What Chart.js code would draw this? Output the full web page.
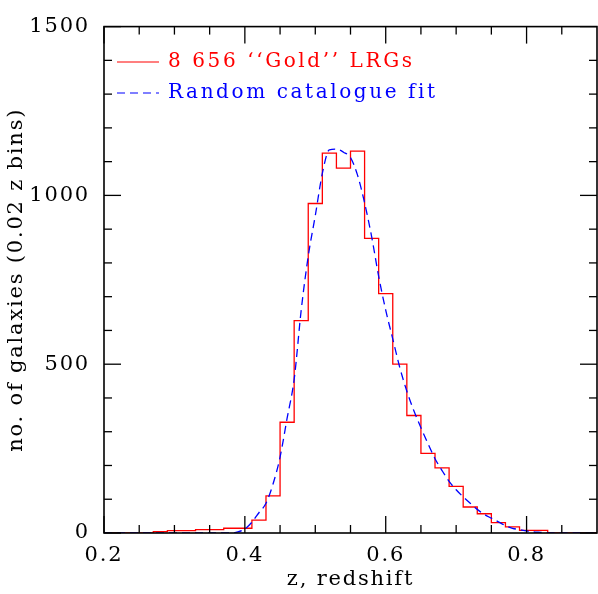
<!DOCTYPE html>
<html>
<head>
<meta charset="utf-8">
<script src="https://cdn.jsdelivr.net/npm/chart.js@4"></script>
<style>
html,body{margin:0;padding:0;background:#fff;}
#wrap{width:598px;height:594px;}
</style>
</head>
<body>
<div id="wrap"><canvas id="c" width="598" height="594"></canvas></div>
<script>
// Histogram: left edges of 0.02 bins and galaxy counts
const binLeft = [0.19,0.21,0.23,0.25,0.27,0.29,0.31,0.33,0.35,0.37,0.39,0.41,0.43,0.45,0.47,0.49,0.51,0.53,0.55,0.57,0.59,0.61,0.63,0.65,0.67,0.69,0.71,0.73,0.75,0.77,0.79,0.81,0.83,0.85,0.87,0.89,0.91];
const binCounts = [0,0,0,0,4,7,7,10,10,14,14,38,110,328,629,976,1125,1081,1131,873,709,500,348,236,193,138,77,57,31,18,8,8,0,0,0,0,0];
// Random catalogue fit
const fitZ = [0.20,0.30,0.38,0.39,0.40,0.41,0.42,0.43,0.44,0.45,0.46,0.47,0.48,0.49,0.50,0.51,0.52,0.53,0.54,0.55,0.56,0.57,0.58,0.59,0.60,0.61,0.62,0.63,0.64,0.65,0.66,0.67,0.68,0.69,0.70,0.71,0.72,0.73,0.74,0.75,0.76,0.77,0.78,0.79,0.80,0.81,0.82,0.83,0.84,0.90];
const fitCounts = [0,0,0,3,12,32,60,88,145,225,340,455,660,820,940,1065,1135,1137,1128,1112,1060,978,878,760,660,575,490,420,362,312,265,220,185,153,128,107,88,70,55,44,33,22,14,10,6,3,2,1,0,0];
// Axis ticks
const xTickLabels = [0.2,0.4,0.6,0.8];
const xMinorTicks = [0.25,0.3,0.35,0.45,0.5,0.55,0.65,0.7,0.75,0.85];
const yTickLabels = [0,500,1000,1500];
const yMinorTicks = [100,200,300,400,600,700,800,900,1100,1200,1300,1400];
const seriesNames = ['8 656 \u2018\u2018Gold\u2019\u2019 LRGs','Random catalogue fit'];

const FONT = 'DejaVu Serif';

const histData = binLeft.map((z,i)=>({x:z,y:binCounts[i]}));
const fitData = fitZ.map((z,i)=>({x:z,y:fitCounts[i]}));

const spacing = {
  id:'spacing',
  beforeUpdate(chart){ chart.ctx.letterSpacing='1.8px'; },
  beforeDraw(chart){ chart.ctx.letterSpacing='1.8px'; }
};

const frameTicks = {
  id:'frameTicks',
  afterDatasetsDraw(chart){
    const {ctx, chartArea:a, scales:{x,y}} = chart;
    ctx.save();
    ctx.strokeStyle='#000';
    ctx.lineWidth=1.3;
    const tick=(x1,y1,x2,y2)=>{ctx.beginPath();ctx.moveTo(x1,y1);ctx.lineTo(x2,y2);ctx.stroke();};
    const MAJ=17, MIN=8;
    xTickLabels.forEach(v=>{const p=x.getPixelForValue(v);tick(p,a.bottom,p,a.bottom-MAJ);tick(p,a.top,p,a.top+MAJ);});
    xMinorTicks.forEach(v=>{const p=x.getPixelForValue(v);tick(p,a.bottom,p,a.bottom-MIN);tick(p,a.top,p,a.top+MIN);});
    yTickLabels.forEach(v=>{const p=y.getPixelForValue(v);tick(a.left,p,a.left+MAJ,p);tick(a.right,p,a.right-MAJ,p);});
    yMinorTicks.forEach(v=>{const p=y.getPixelForValue(v);tick(a.left,p,a.left+MIN,p);tick(a.right,p,a.right-MIN,p);});
    ctx.lineWidth=1.6;
    ctx.strokeRect(a.left,a.top,a.right-a.left,a.bottom-a.top);
    // legend
    ctx.font = '20px "'+FONT+'"';
    ctx.letterSpacing='2.6px';
    ctx.textBaseline='middle';
    ctx.textAlign='left';
    const ds = chart.data.datasets;
    const rows=[62,93];
    ds.forEach((d,i)=>{
      ctx.strokeStyle=d.borderColor; ctx.lineWidth=1.2;
      ctx.setLineDash(d.borderDash||[]);
      tick(a.left+13,rows[i],a.left+55,rows[i]);
      ctx.setLineDash([]);
      ctx.fillStyle=d.borderColor;
      ctx.fillText(d.label,a.left+64,rows[i]);
    });
    ctx.restore();
  }
};

new Chart(document.getElementById('c'),{
  type:'line',
  data:{datasets:[
    {label:seriesNames[0],data:histData,stepped:'before',borderColor:'#ff0000',borderWidth:1.3,pointRadius:0,fill:false,order:2},
    {label:seriesNames[1],data:fitData,borderColor:'#0000ff',borderWidth:1.3,borderDash:[8,5],pointRadius:0,fill:false,cubicInterpolationMode:'monotone',order:1}
  ]},
  options:{
    responsive:false,animation:false,
    layout:{padding:{top:17,right:1,left:0,bottom:0}},
    plugins:{legend:{display:false},tooltip:{enabled:false}},
    scales:{
      x:{type:'linear',min:0.2,max:0.9,
        afterBuildTicks:s=>{s.ticks=xTickLabels.map(v=>({value:v}));},
        afterFit:s=>{s.height=61;},
        grid:{display:false,drawTicks:false},border:{display:false},
        ticks:{color:'#000',font:{family:FONT,size:21},padding:10,maxRotation:0,callback:v=>v.toFixed(1)},
        title:{display:true,text:'z, redshift',color:'#000',font:{family:FONT,size:21},padding:{top:0,bottom:2}}
      },
      y:{type:'linear',min:0,max:1500,
        afterBuildTicks:s=>{s.ticks=yTickLabels.map(v=>({value:v}));},
        afterFit:s=>{s.width=104;},
        grid:{display:false,drawTicks:false},border:{display:false},
        ticks:{color:'#000',font:{family:FONT,size:21},padding:14,callback:v=>String(v)},
        title:{display:true,text:'no. of galaxies (0.02 z bins)',color:'#000',font:{family:FONT,size:21},padding:{top:4,bottom:0}}
      }
    }
  },
  plugins:[spacing,frameTicks]
});
</script>
</body>
</html>
